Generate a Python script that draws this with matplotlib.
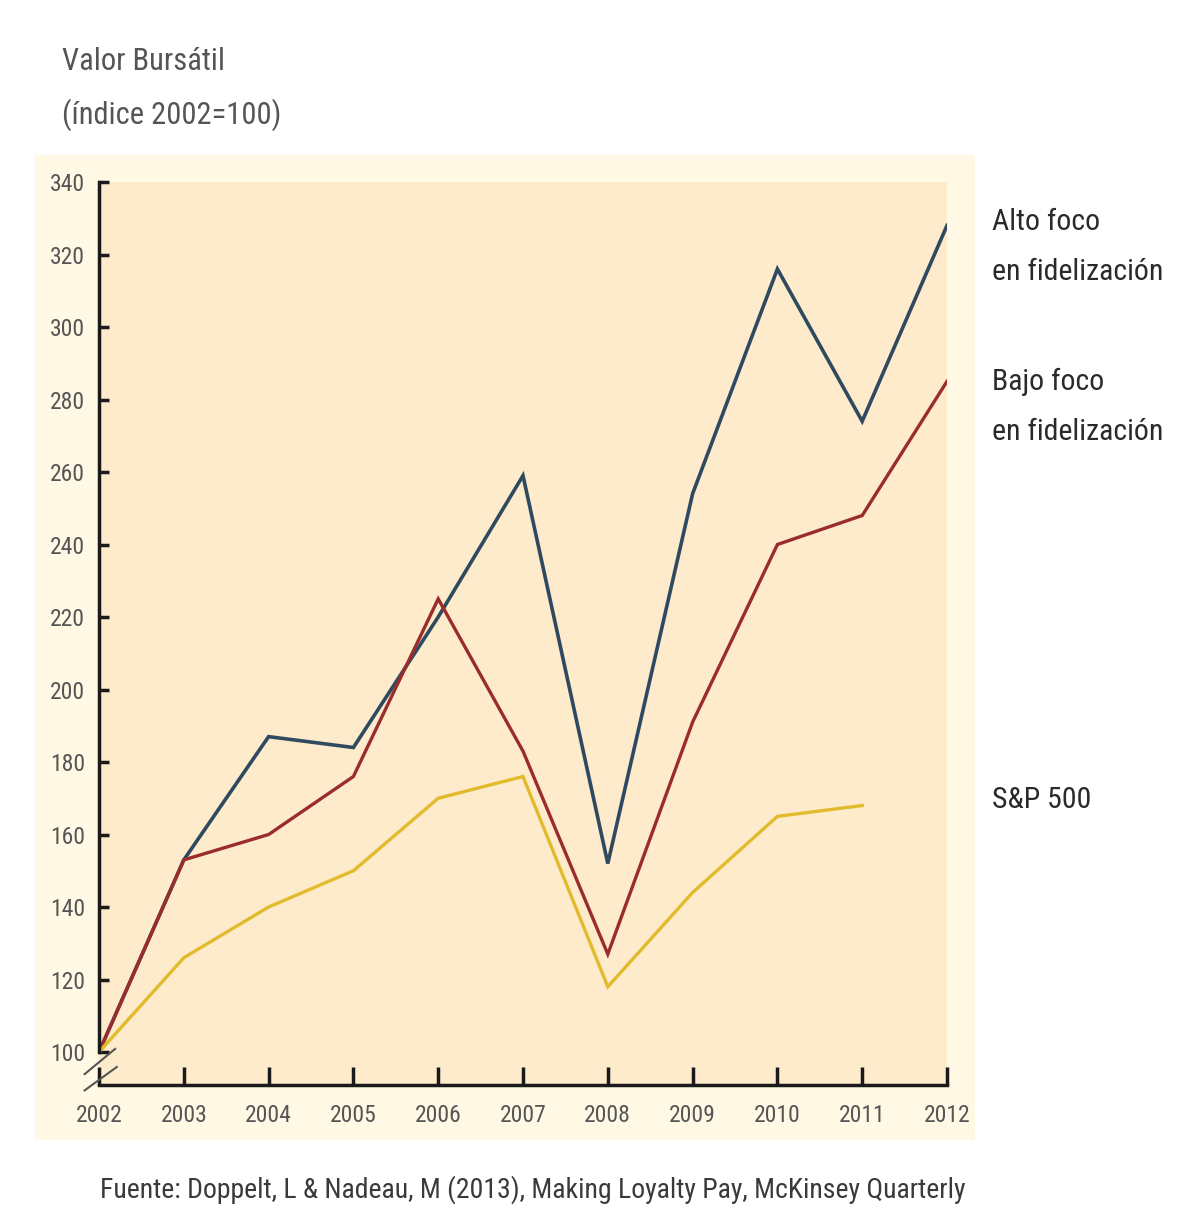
import matplotlib.pyplot as plt
from matplotlib.patches import Rectangle
from matplotlib.lines import Line2D
from matplotlib import font_manager

years = [2002, 2003, 2004, 2005, 2006, 2007, 2008, 2009, 2010, 2011, 2012]
alto_foco = [100, 153, 187, 184, 220, 259, 152, 254, 316, 274, 328]
bajo_foco = [100, 153, 160, 176, 225, 183, 127, 191, 240, 248, 285]
sp_years = [2002, 2003, 2004, 2005, 2006, 2007, 2008, 2009, 2010, 2011]
sp500 = [100, 126, 140, 150, 170, 176, 118, 144, 165, 168]
yticks = [100, 120, 140, 160, 180, 200, 220, 240, 260, 280, 300, 320, 340]

W, H = 1190, 1221
names = {f.name for f in font_manager.fontManager.ttflist}
narrow = [n for n in ['Roboto Condensed', 'Liberation Sans Narrow', 'DejaVu Sans Condensed']
          if n in names] + ['DejaVu Sans']
plt.rcParams['font.family'] = narrow

fig = plt.figure(figsize=(W / 100, H / 100), dpi=100)
fig.patch.set_facecolor('white')

# light panel behind the chart
fig.patches.append(Rectangle((35 / W, 1 - 1140 / H), (975 - 35) / W, (1140 - 155) / H,
                             transform=fig.transFigure, facecolor='#fef8e4',
                             edgecolor='none', zorder=-5))

ax = fig.add_axes([99 / W, 1 - 1085 / H, (947 - 99) / W, (1085 - 182) / H])
ax.set_facecolor('#fdebcb')
ax.set_zorder(2)

ax.plot(years, alto_foco, color='#2f4a60', lw=2.6, solid_joinstyle='miter')
ax.plot(years, bajo_foco, color='#9a2c2c', lw=2.4, solid_joinstyle='miter')
ax.plot(sp_years, sp500, color='#e2bb2c', lw=2.4, solid_joinstyle='miter')

ax.set_xlim(2002, 2012)
ax.set_ylim(90.9, 340)
ax.set_xticks(years)
ax.set_yticks(yticks)

for s in ['top', 'right']:
    ax.spines[s].set_visible(False)
ax.spines['left'].set_bounds(100, 340)
ax.spines['left'].set_linewidth(2.5)
ax.spines['bottom'].set_linewidth(2.5)
ax.spines['left'].set_color('#1a1a1a')
ax.spines['bottom'].set_color('#1a1a1a')

ax.tick_params(axis='y', direction='in', length=7, width=2.5, color='#1a1a1a',
               labelsize=17, labelcolor='#555555', pad=10)
ax.tick_params(axis='x', direction='in', length=13, width=2.5, color='#1a1a1a',
               labelsize=17, labelcolor='#555555', pad=14)

# axis break marks
for (x0, y0, x1, y1) in [(-0.017, 0.012, 0.019, 0.040), (-0.017, -0.006, 0.021, 0.020)]:
    ax.add_line(Line2D([x0, x1], [y0, y1], transform=ax.transAxes, color='#555555',
                       lw=1.5, clip_on=False))

def fx(px):
    return px / W

def fy(py):
    return 1 - py / H

fig.text(fx(62), fy(62), 'Valor Bursátil', fontsize=22, color='#555555', va='center')
fig.text(fx(62), fy(115), '(índice 2002=100)', fontsize=22, color='#555555', va='center')

for txt, y in [('Alto foco', 222), ('en fidelización', 272),
               ('Bajo foco', 382), ('en fidelización', 432),
               ('S&P 500', 800)]:
    fig.text(fx(992), fy(y), txt, fontsize=21.5, color='#2a2a2a', va='center')

fig.text(fx(100), fy(1190),
         'Fuente: Doppelt, L & Nadeau, M (2013), Making Loyalty Pay, McKinsey Quarterly',
         fontsize=20, color='#3a3a3a', va='center')

fig.savefig('out.png', dpi=100)
